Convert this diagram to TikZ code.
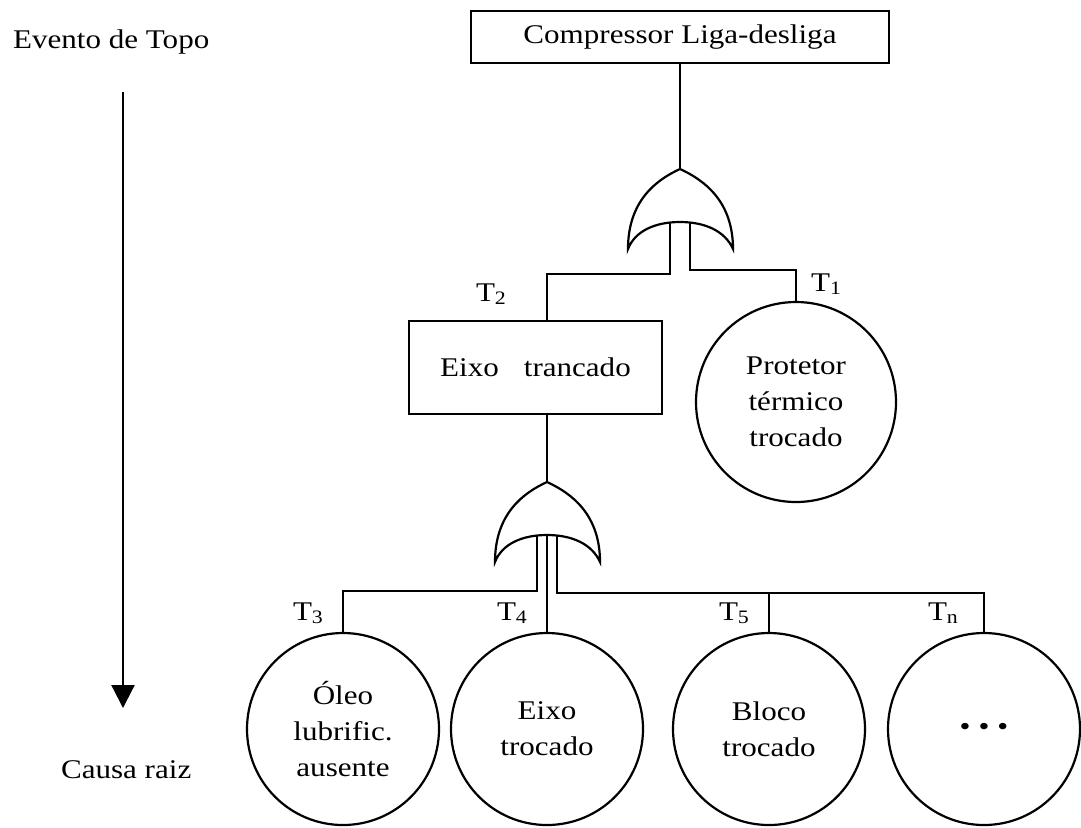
\documentclass[tikz,border=0pt]{standalone}
\usepackage{fontspec}
\setmainfont{Liberation Serif}[FakeStretch=1.15]
\usetikzlibrary{arrows.meta}
\newcommand{\tlab}[1]{T{\fontsize{9.5}{10}\selectfont\raisebox{-1.5pt}{#1}}}

\begin{document}
\begin{tikzpicture}[
    x=0.5pt, y=-0.5pt,
    line width=1.1pt,
    font=\fontsize{13.5}{18}\selectfont,
    >={Triangle[width=11.5pt,length=11.5pt]},
    event/.style={draw, rectangle, inner sep=0pt},
    basic/.style={draw, circle, minimum size=96pt, inner sep=0pt, align=center},
    tag/.style={inner sep=0pt, anchor=base east},
    orgate/.pic={
        \draw (-52,80) .. controls (-52,32) and (-24,11) .. (0,0)
                       .. controls (24,11) and (53,32) .. (53,80)
                       .. controls (45,62) and (25,53) .. (0,53)
                       .. controls (-25,53) and (-45,62) .. (-52,80) -- cycle;
        \coordinate (-top) at (0,0);
        \coordinate (-l) at (-10,53);
        \coordinate (-m) at (0,53);
        \coordinate (-r) at (10,53);
    }]

    \useasboundingbox (0,0) rectangle (1081,827);

    % left axis
    \node (evento) [inner sep=0pt, anchor=base west] at (12,48) {Evento de Topo};
    \node (causa) [inner sep=0pt, anchor=base west] at (60,778) {Causa raiz};
    \coordinate (axtop) at (123,92);
    \coordinate (axbot) at (123,708);
    \draw[->] (axtop) -- (axbot);

    % top event and first gate
    \node (top) [event, minimum width=209pt, minimum height=26pt] at (680,37) {Compressor Liga-desliga};
    \pic (g1) at (680,169) {orgate};
    \draw (top.south) -- (g1-top);

    \node (eixo) [event, minimum width=126.5pt, minimum height=46.5pt] at (535.5,367.5) {Eixo\hspace{12.5pt}trancado};
    \node (prot) [basic, minimum size=100pt] at (796,402) {Protetor\\térmico\\trocado};
    \pic (g2) at (547,482) {orgate};
    \coordinate (eixoin) at (g2-top |- eixo.north);

    \draw (g1-l) -- ++(0,52) -| (eixoin);
    \draw (g1-r) -- ++(0,48) -| (prot.north);
    \draw (eixo.south -| g2-top) -- (g2-top);

    % root causes
    \node (c3) [basic] at (343,729) {Óleo\\lubrific.\\ausente};
    \node (c4) [basic] at (547,729) {Eixo\\trocado};
    \node (c5) [basic] at (769,729) {Bloco\\trocado};
    \node (cn) [basic] at (984,729) {\textbullet\hspace{4pt}\textbullet\hspace{4pt}\textbullet};

    \draw (g2-l) -- ++(0,56) -| (c3.north);
    \draw (g2-m) -- (c4.north);
    \draw (g2-r) -- ++(0,58) coordinate (bus) -| (cn.north);
    \draw (bus -| c5.north) -- (c5.north);

    \node (t2) [tag] at ([xshift=-20pt,yshift=9pt]eixoin) {\tlab{2}};
    \node (t1) [tag, anchor=base west] at ([xshift=7pt,yshift=4.5pt]prot.north) {\tlab{1}};
    \node (t3) [tag] at ([xshift=-9.5pt,yshift=5.5pt]c3.north) {\tlab{3}};
    \node (t4) [tag] at ([xshift=-9.5pt,yshift=5.5pt]c4.north) {\tlab{4}};
    \node (t5) [tag] at ([xshift=-9.5pt,yshift=5.5pt]c5.north) {\tlab{5}};
    \node (tn) [tag] at ([xshift=-12.5pt,yshift=5.5pt]cn.north) {\tlab{n}};

\end{tikzpicture}
\end{document}
